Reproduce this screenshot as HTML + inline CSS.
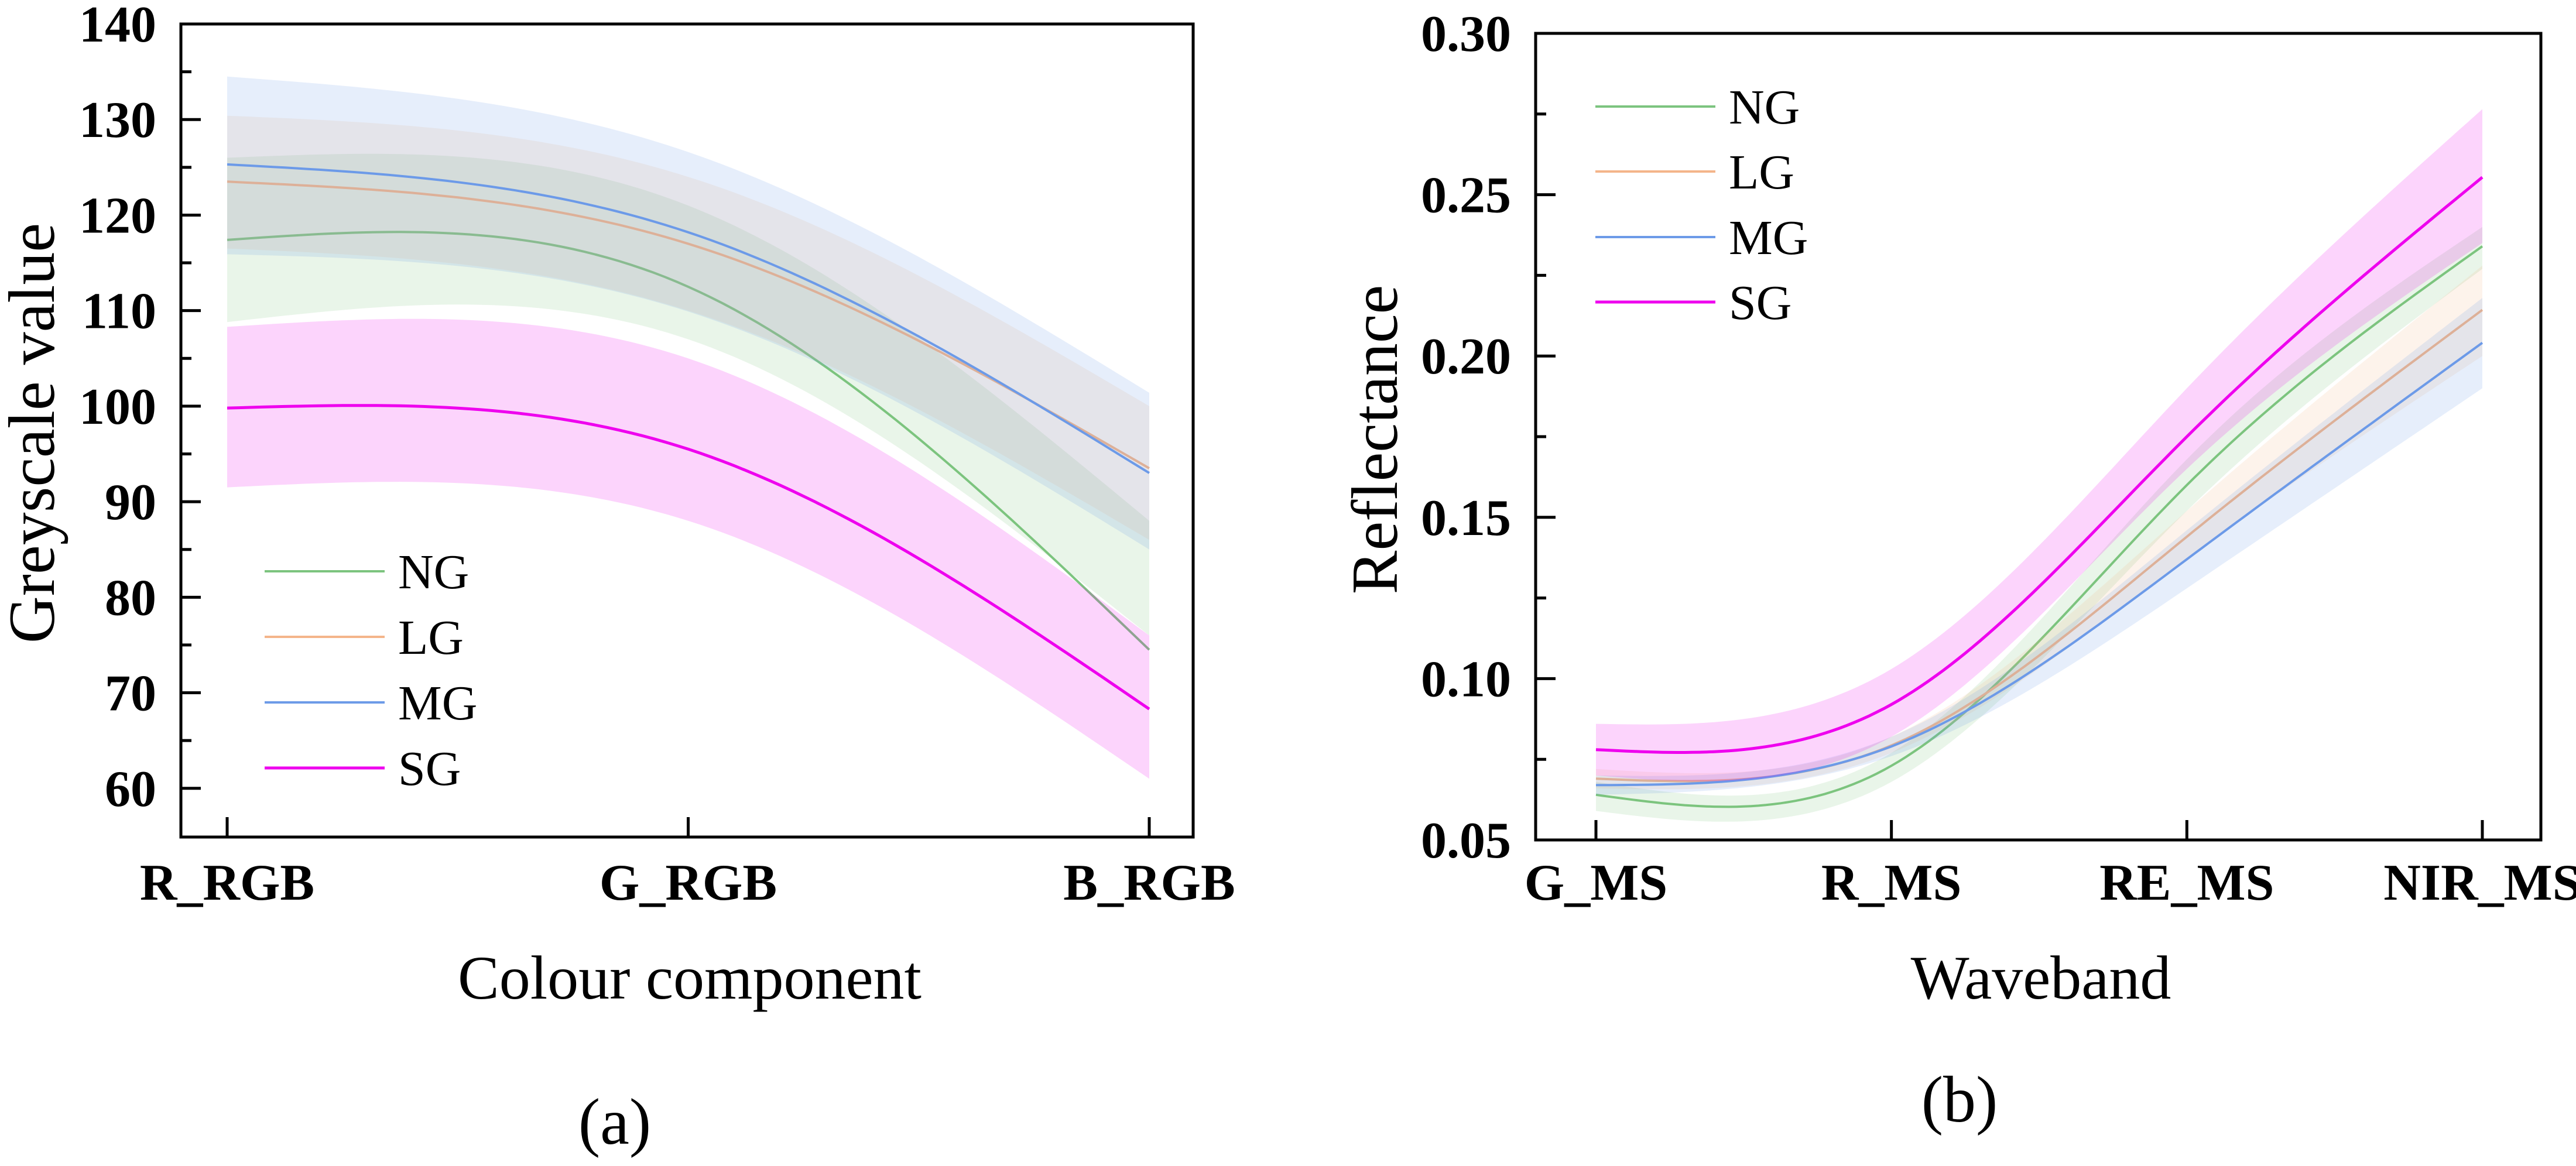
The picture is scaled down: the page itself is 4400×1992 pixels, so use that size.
<!DOCTYPE html>
<html><head><meta charset="utf-8"><style>
html,body{margin:0;padding:0;background:#fff;}
svg{display:block;}
svg text{font-family:"Liberation Serif","DejaVu Serif","Noto Serif CJK SC",serif !important;}
</style></head><body>
<svg id="chart" width="4400" height="1992" viewBox="0 0 4400 1992" xmlns="http://www.w3.org/2000/svg">
</svg>
<script>
// ---- Panel (a) data ----
const catsA = ["R_RGB","G_RGB","B_RGB"];
const yTicksA = [60,70,80,90,100,110,120,130,140];
const groups = ["NG","LG","MG","SG"];
const ngA = [117.4,112.5,74.5];
const lgA = [123.5,117.0,93.5];
const mgA = [125.3,118.2,93.0];
const sgA = [99.8,95.5,68.3];
const ngAUp = [126.0,121.0,88.0];
const ngALo = [108.8,107.0,76.0];
const lgAUp = [130.4,124.0,100.0];
const lgALo = [116.5,110.0,86.0];
const mgAUp = [134.5,126.6,101.4];
const mgALo = [115.9,109.9,85.0];
const sgAUp = [108.3,105.0,76.0];
const sgALo = [91.5,88.0,61.0];
// ---- Panel (b) data ----
const catsB = ["G_MS","R_MS","RE_MS","NIR_MS"];
const yTicksB = ["0.05","0.10","0.15","0.20","0.25","0.30"];
const ngB = [0.064,0.073,0.160,0.234];
const lgB = [0.069,0.0793,0.144,0.2143];
const mgB = [0.067,0.079,0.137,0.2041];
const sgB = [0.078,0.092,0.175,0.2554];
const ngBUp = [0.068,0.077,0.168,0.240];
const ngBLo = [0.059,0.068,0.152,0.227];
const lgBUp = [0.072,0.082,0.152,0.228];
const lgBLo = [0.066,0.077,0.137,0.200];
const mgBUp = [0.070,0.082,0.146,0.218];
const mgBLo = [0.064,0.076,0.128,0.190];
const sgBUp = [0.086,0.103,0.190,0.2765];
const sgBLo = [0.070,0.082,0.165,0.235];

const colors = {NG:"#7cc47f",LG:"#f4b58a",MG:"#6d9be8",SG:"#ee00ee"};
const FONT = "'Liberation Serif', 'DejaVu Serif', serif";
const NS="http://www.w3.org/2000/svg";
const svg=document.getElementById('chart');
function el(tag,attrs,parent){const e=document.createElementNS(NS,tag);for(const k in attrs)e.setAttribute(k,attrs[k]);if(tag==='text')e.style.fontFamily=FONT;(parent||svg).appendChild(e);return e;}

function spline(ys){ // natural cubic spline, unit spacing
  const n=ys.length;const M=new Array(n).fill(0);
  if(n>2){const a=[],b=[],c=[],d=[];
    for(let i=1;i<n-1;i++){a.push(1);b.push(4);c.push(1);d.push(6*(ys[i-1]-2*ys[i]+ys[i+1]));}
    const m=b.length;for(let i=1;i<m;i++){const w=a[i]/b[i-1];b[i]-=w*c[i-1];d[i]-=w*d[i-1];}
    const x=new Array(m);x[m-1]=d[m-1]/b[m-1];for(let i=m-2;i>=0;i--)x[i]=(d[i]-c[i]*x[i+1])/b[i];
    for(let i=0;i<m;i++)M[i+1]=x[i];}
  const pts=[];
  for(let i=0;i<n-1;i++){for(let s=0;s<40;s++){const t=s/40;
    const v=M[i]*(1-t)**3/6+M[i+1]*t**3/6+(ys[i]-M[i]/6)*(1-t)+(ys[i+1]-M[i+1]/6)*t;pts.push([i+t,v]);}}
  pts.push([n-1,ys[n-1]]);return pts;
}

function panel(cfg){
  const g=el('g',{});
  
  
  const {L,R,T,B,x0,x1,ymin,ymax,n}=cfg;
  const sx=i=>x0+(x1-x0)*i/(n-1);
  const sy=v=>B-(v-ymin)/(ymax-ymin)*(B-T);
  cfg.series.forEach(s=>{
    const pts=spline(s.v).map(p=>[sx(p[0]),sy(p[1])]);
    const l=el('path',{d:'M'+pts.map(p=>p[0].toFixed(1)+','+p[1].toFixed(1)).join('L'),fill:'none',stroke:colors[s.g],'stroke-width':s.g==='SG'?5:4},g);
    
    
    const up=spline(s.up).map(p=>[sx(p[0]),sy(p[1])]);
    const lo=spline(s.lo).map(p=>[sx(p[0]),sy(p[1])]).reverse();
    const d='M'+up.concat(lo).map(p=>p[0].toFixed(1)+','+p[1].toFixed(1)).join('L')+'Z';
    const b=el('path',{d:d,fill:colors[s.g],'fill-opacity':0.17,stroke:'none'},g);
    
    
  });
  const fr=el('rect',{x:L,y:T,width:R-L,height:B-T,fill:'none',stroke:'#000','stroke-width':5},g);
  
  
  cfg.yt.forEach((t,i)=>{
    const v=parseFloat(t);const y=sy(v);
    el('line',{x1:L,x2:L+34,y1:y,y2:y,stroke:'#000','stroke-width':5},g);
    const tx=el('text',{x:L-42,y:y+30,'text-anchor':'end','font-size':88,'font-weight':'bold'},g);
    tx.textContent=t;
    
    
    if(i<cfg.yt.length-1){const vm=(v+parseFloat(cfg.yt[i+1]))/2;const ym=sy(vm);
      el('line',{x1:L,x2:L+18,y1:ym,y2:ym,stroke:'#000','stroke-width':5},g);}
  });
  cfg.cats.forEach((c,i)=>{
    const x=sx(i);
    el('line',{x1:x,x2:x,y1:B,y2:B-34,stroke:'#000','stroke-width':5},g);
    const tx=el('text',{x:x,y:1537,'text-anchor':'middle','font-size':88,'font-weight':'bold'},g);
    tx.textContent=c;
    
    
  });
  const xt=el('text',{x:cfg.xtx,y:1706,'text-anchor':'middle','font-size':106},g);
  xt.textContent=cfg.xtitle;
  
  
  const yt=el('text',{x:0,y:0,'text-anchor':'middle','font-size':112,transform:`translate(${cfg.ytx},${cfg.yty}) rotate(-90)`},g);
  yt.textContent=cfg.ytitle;
  
  
  const pl=el('text',{x:cfg.plx,y:cfg.ply,'text-anchor':'middle','font-size':112},g);
  pl.textContent=cfg.label;
  
  
  const lg=el('g',{},g);
  
  
  groups.forEach((gname,i)=>{
    const y=cfg.legY[i];
    const e=el('g',{},lg);
    
    
    el('line',{x1:cfg.legX,x2:cfg.legX+205,y1:y,y2:y,stroke:colors[gname],'stroke-width':gname==='SG'?5:4},e);
    const t=el('text',{x:cfg.legX+228,y:y+29,'font-size':84},e);
    t.textContent=gname;
  });
}

panel({name:'panel-a',L:309,R:2038,T:41,B:1430,x0:388,x1:1963,ymin:54.9,ymax:140,n:3,
  cats:catsA,yt:yTicksA.map(String),
  series:[{g:'NG',v:ngA,up:ngAUp,lo:ngALo},{g:'LG',v:lgA,up:lgAUp,lo:lgALo},{g:'MG',v:mgA,up:mgAUp,lo:mgALo},{g:'SG',v:sgA,up:sgAUp,lo:sgALo}],
  xtitle:'Colour component',xtx:1178,ytitle:'Greyscale value',ytx:92,yty:740,label:'(a)',plx:1050,ply:1954,
  legX:452,legY:[976,1088,1200,1312]});
panel({name:'panel-b',L:2623,R:4340,T:57,B:1435,x0:2726,x1:4240,ymin:0.05,ymax:0.30,n:4,
  cats:catsB,yt:yTicksB,
  series:[{g:'NG',v:ngB,up:ngBUp,lo:ngBLo},{g:'LG',v:lgB,up:lgBUp,lo:lgBLo},{g:'MG',v:mgB,up:mgBUp,lo:mgBLo},{g:'SG',v:sgB,up:sgBUp,lo:sgBLo}],
  xtitle:'Waveband',xtx:3486,ytitle:'Reflectance',ytx:2386,yty:751,label:'(b)',plx:3347,ply:1916,
  legX:2725,legY:[182,293,405,516]});
</script>
</body></html>
